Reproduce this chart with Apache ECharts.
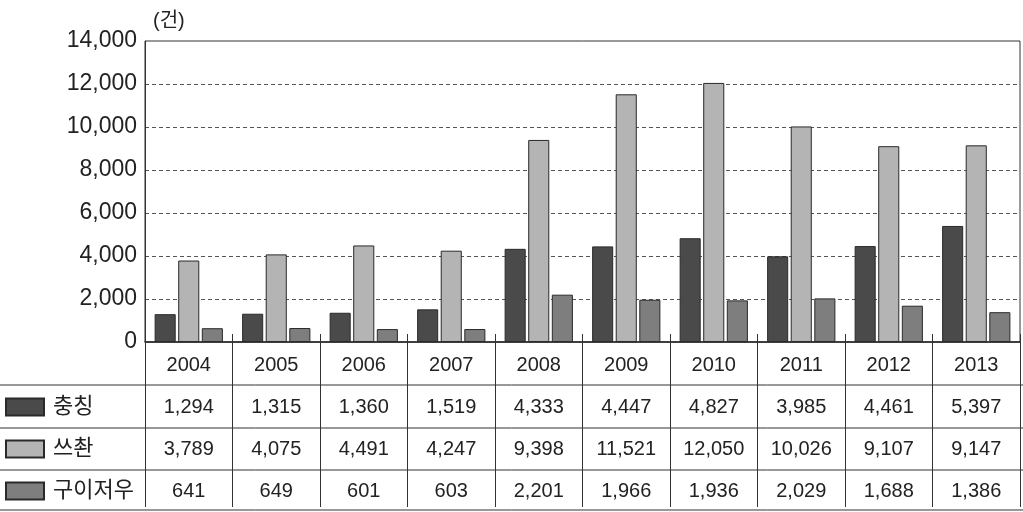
<!DOCTYPE html>
<html>
<head>
<meta charset="utf-8">
<script src="https://cdn.jsdelivr.net/npm/echarts@6/dist/echarts.min.js"></script>
<style>
  html, body { margin: 0; padding: 0; background: #fff; }
  #chart { width: 1023px; height: 512px; }
</style>
</head>
<body>
<div id="chart"></div>
<script>
// 연도
const years = ["2004", "2005", "2006", "2007", "2008", "2009", "2010", "2011", "2012", "2013"];
const seriesNames = ["충칭", "쓰촨", "구이저우"];
const chongqing = [1294, 1315, 1360, 1519, 4333, 4447, 4827, 3985, 4461, 5397];
const sichuan = [3789, 4075, 4491, 4247, 9398, 11521, 12050, 10026, 9107, 9147];
const guizhou = [641, 649, 601, 603, 2201, 1966, 1936, 2029, 1688, 1386];
const colors = ["#4a4a4a", "#b4b4b4", "#7e7e7e"];

const font = "'Liberation Sans', 'Noto Sans CJK KR', sans-serif";
const fmt = v => v.toLocaleString("en-US");

const chart = echarts.init(document.getElementById("chart"));

// table rows under the axis, one column per year
const tableLabel = (val, idx) =>
  [val, fmt(chongqing[idx]), fmt(sichuan[idx]), fmt(guizhou[idx])].join("\n");

const hLine = y => ({
  type: "line",
  shape: { x1: 0, y1: y, x2: 1023, y2: y },
  style: { stroke: "#333", lineWidth: 1 },
});

chart.setOption({
  animation: false,
  textStyle: { fontFamily: font },
  grid: {
    left: 145, right: 3, top: 41, bottom: 167,
    show: true, borderColor: "#333", borderWidth: 1,
  },
  legend: {
    orient: "vertical",
    left: 5, top: 394, width: 140, height: 118,
    padding: 0,
    itemWidth: 38, itemHeight: 17, itemGap: 16,
    icon: "rect",
    textStyle: { fontSize: 22, lineHeight: 26, color: "#222", fontFamily: font, padding: [0, 0, 0, 4] },
    data: seriesNames,
  },
  xAxis: [
    {
      type: "category",
      data: years,
      axisLine: { lineStyle: { color: "#222", width: 1.5 } },
      axisTick: { show: true, length: 165, lineStyle: { color: "#333" } },
      axisLabel: {
        interval: 0,
        margin: 2,
        fontSize: 20,
        lineHeight: 42,
        color: "#222",
        fontFamily: font,
        formatter: tableLabel,
      },
    },
    {
      type: "category",
      data: years,
      position: "bottom",
      axisLine: { show: false },
      axisTick: { show: true, inside: true, length: 8, lineStyle: { color: "#333" } },
      axisLabel: { show: false },
    },
  ],
  yAxis: {
    type: "value",
    min: 0, max: 14000, interval: 2000,
    name: "(건)",
    nameLocation: "end",
    nameGap: 10,
    nameTextStyle: { fontSize: 20, color: "#222", align: "left", padding: [0, 0, 0, 8], fontFamily: font },
    axisLine: { show: true, lineStyle: { color: "#333" } },
    axisTick: { show: false },
    axisLabel: { fontSize: 23, color: "#222", margin: 8, fontFamily: font, formatter: v => fmt(v) },
    splitLine: { showMaxLine: false, showMinLine: false, lineStyle: { color: "#555", type: [4, 3] } },
  },
  series: [chongqing, sichuan, guizhou].map((d, i) => ({
    name: seriesNames[i],
    type: "bar",
    data: d,
    barCategoryGap: "22%",
    barGap: "12%",
    itemStyle: { color: colors[i], borderColor: "#2a2a2a", borderWidth: 1 },
  })),
  graphic: [385, 428, 470, 510].map(hLine),
});
</script>
</body>
</html>
